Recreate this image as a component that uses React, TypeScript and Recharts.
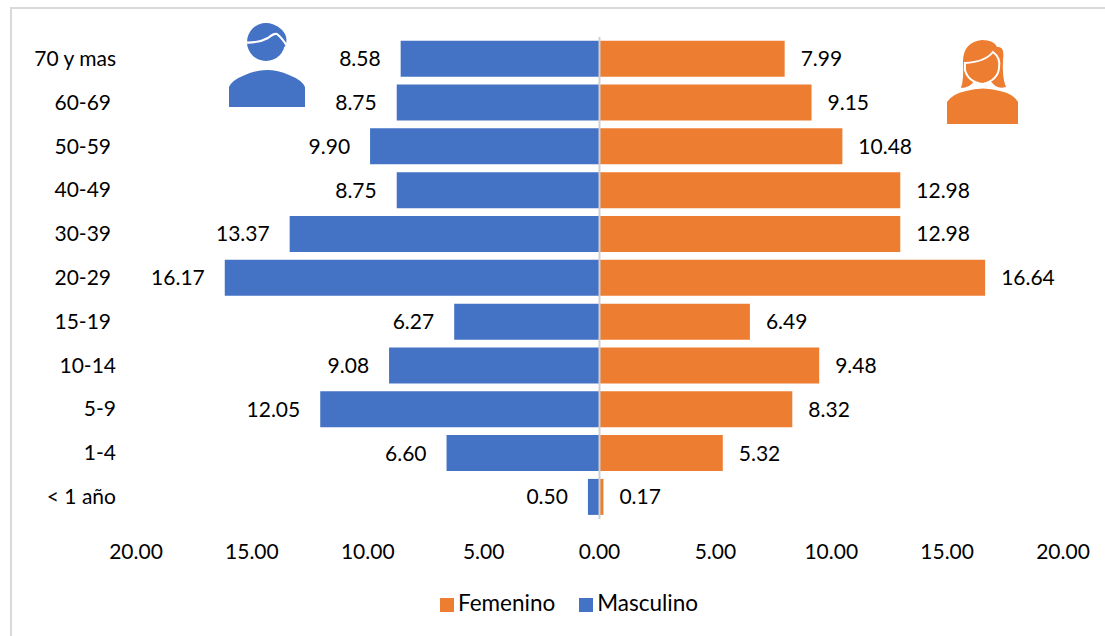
import React from 'react';
import { BarChart, Bar, XAxis, YAxis, Legend, LabelList, ReferenceLine } from 'recharts';

const categories = ['70 y mas', '60-69', '50-59', '40-49', '30-39', '20-29', '15-19', '10-14', '5-9', '1-4', '< 1 año'];
const masculino = [8.58, 8.75, 9.9, 8.75, 13.37, 16.17, 6.27, 9.08, 12.05, 6.6, 0.5];
const femenino = [7.99, 9.15, 10.48, 12.98, 12.98, 16.64, 6.49, 9.48, 8.32, 5.32, 0.17];
const xTicks = [-20, -15, -10, -5, 0, 5, 10, 15, 20];
// these labels sit a little further from the bars in the original
const insetLabels = ['60-69', '50-59', '40-49', '30-39', '20-29', '15-19'];

const BLUE = '#4472c4';
const ORANGE = '#ed7d31';
const FONT = 'Lato, "Open Sans", sans-serif';

const chartData = categories.map((name, i) => ({
  name,
  Masculino: -masculino[i],
  Femenino: femenino[i],
}));

const fmt = (v: number) => Math.abs(v).toFixed(2);

const CategoryTick = ({ x, y, payload }: any) => (
  <text
    x={insetLabels.includes(payload.value) ? x - 5 : x}
    y={y}
    dy={7}
    textAnchor="end"
    fill="#000"
    fontSize={21}
    fontFamily={FONT}
  >
    {payload.value}
  </text>
);

const ManIcon = () => (
  <svg style={{ position: 'absolute', left: 0, top: 0 }} width={1105} height={636}>
    <circle cx={266} cy={42} r={19} fill={BLUE} />
    <path d="M262 24 Q278 22 285 34 Q288 40 285 47 L276 35 Z" fill={BLUE} />
    <path d="M246 42.5 Q259 43 268 38 Q274 33 277 34 Q282 38 287 46" fill="none" stroke="#fff" strokeWidth={2.2} />
    <path d="M229 107 L229 87 Q232 80 245 75 Q267 65 289 75 Q302 80 305 87 L305 107 Z" fill={BLUE} />
  </svg>
);

const WomanIcon = () => (
  <svg style={{ position: 'absolute', left: 0, top: 0 }} width={1105} height={636}>
    <path d="M961 88 Q964 80 963 60 Q964 42 982 40 Q994 40 997 47 Q1005 46 1003 60 Q1002 78 1006 87 Q996 90 990 80 L975 80 Q970 88 961 88 Z" fill={ORANGE} />
    <path d="M965 63 Q985 62 993 52 Q1001 58 999 68 Q998 80 983 84 Q968 82 965 70 Z" fill={ORANGE} stroke="#fff" strokeWidth={2} />
    <path d="M947 124 L947 102 Q952 94 966 91 Q983 86 1000 91 Q1014 94 1018 102 L1018 124 Z" fill={ORANGE} />
  </svg>
);

const App: React.FC = () => {
  return (
    <div style={{ position: 'fixed', left: 0, top: 0, width: 1105, height: 636, overflow: 'hidden', background: '#fff', fontFamily: FONT }}>
      <div style={{ position: 'absolute', left: 10, top: 7, width: 1200, height: 700, border: '2px solid #d9d9d9' }} />
      <div style={{ position: 'absolute', left: 0, top: 0 }}>
        <BarChart
          width={1105}
          height={636}
          data={chartData}
          layout="vertical"
          stackOffset="sign"
          barCategoryGap="8.5%"
          margin={{ top: 37, right: 42, bottom: 50, left: 1 }}
        >
          <XAxis
            type="number"
            domain={[-20, 20]}
            ticks={xTicks}
            tickFormatter={fmt}
            axisLine={false}
            tickLine={false}
            tick={{ fill: '#000', fontSize: 21, fontFamily: FONT }}
            tickMargin={19}
            height={40}
          />
          <YAxis
            type="category"
            dataKey="name"
            width={135}
            axisLine={false}
            tickLine={false}
            tick={<CategoryTick />}
            tickMargin={14}
          />
          <Bar dataKey="Femenino" stackId="a" fill={ORANGE} isAnimationActive={false}>
            <LabelList dataKey="Femenino" position="right" offset={16} formatter={fmt} fill="#000" fontSize={21} fontFamily={FONT} />
          </Bar>
          <Bar dataKey="Masculino" stackId="a" fill={BLUE} isAnimationActive={false}>
            <LabelList dataKey="Masculino" position="right" offset={20} formatter={fmt} fill="#000" fontSize={21} fontFamily={FONT} />
          </Bar>
          <ReferenceLine x={0} stroke="#d0d0d0" strokeWidth={2} />
          <Legend
            verticalAlign="bottom"
            iconType="square"
            iconSize={14}
            wrapperStyle={{ top: 589, bottom: 'auto', left: 0, width: 1148, fontSize: 22.5, fontFamily: FONT }}
            formatter={(value: string) => <span style={{ color: '#000', marginRight: value === 'Femenino' ? 14 : 0 }}>{value}</span>}
          />
        </BarChart>
      </div>
      <ManIcon />
      <WomanIcon />
    </div>
  );
};

export default App;
